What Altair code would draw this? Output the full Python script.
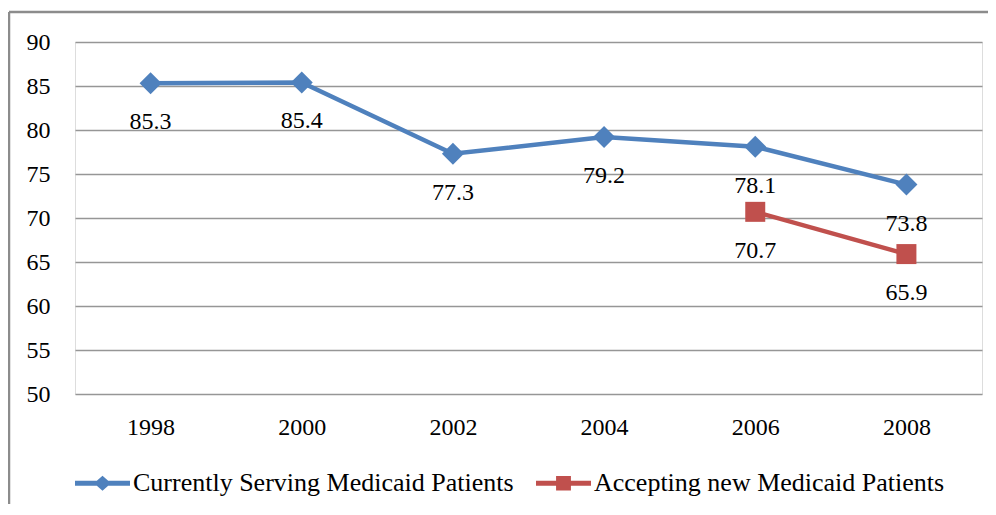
import altair as alt
import pandas as pd

# ---- data ----
years = ["1998", "2000", "2002", "2004", "2006", "2008"]
serving = [85.3, 85.4, 77.3, 79.2, 78.1, 73.8]
accepting = [None, None, None, None, 70.7, 65.9]
series_names = ["Currently Serving Medicaid Patients", "Accepting new Medicaid Patients"]
series_colors = ["#4f81bd", "#c0504d"]
series_shapes = ["diamond", "square"]
series_sizes = [484, 400]
y_ticks = [50, 55, 60, 65, 70, 75, 80, 85, 90]

rows = []
for name, vals in zip(series_names, [serving, accepting]):
    for yr, v in zip(years, vals):
        if v is not None:
            rows.append({"year": yr, "value": v, "series": name})
df = pd.DataFrame(rows)

FONT = "Liberation Serif"
W, H = 907, 352
BORDER = "#8c8c8c"

# legend symbols: line with marker in the middle
legend_paths = [
    "M-1,-0.09L1,-0.09L1,0.09L-1,0.09Z M0,-0.27L0.31,0L0,0.27L-0.31,0Z",
    "M-1,-0.09L1,-0.09L1,0.09L-1,0.09Z M-0.27,-0.26L0.27,-0.26L0.27,0.26L-0.27,0.26Z",
]

x_enc = alt.X(
    "year:N",
    sort=years,
    scale=alt.Scale(type="point", padding=0.5),
    axis=alt.Axis(title=None, labelAngle=0, ticks=False, domain=False, grid=False,
                  labelFontSize=24, labelFont=FONT, labelColor="black", labelPadding=21),
)
y_enc = alt.Y(
    "value:Q",
    scale=alt.Scale(domain=[50, 90], nice=False, zero=False),
    axis=alt.Axis(title=None, values=y_ticks, ticks=False, domain=False, grid=True,
                  gridColor="#969696", gridWidth=1.5,
                  labelFontSize=24, labelFont=FONT, labelColor="black", labelPadding=25),
)

legend_def = alt.Legend(
    title=None, orient="none", legendX=0, legendY=413.5, direction="horizontal",
    symbolSize=3025, symbolStrokeWidth=0, symbolOpacity=1,
    labelFontSize=26, labelFont=FONT, labelColor="black", labelOffset=3,
    columnPadding=22, labelLimit=600,
)

base = alt.Chart(df)

layers = []
# frame (left and top edges of the chart border)
frame = alt.Data(values=[{"k": 1}])
layers.append(alt.Chart(frame).mark_rule(color=BORDER, strokeWidth=2.5).encode(
    x=alt.value(-66), y=alt.value(-30), y2=alt.value(H + 200)))
layers.append(alt.Chart(frame).mark_rule(color=BORDER, strokeWidth=2.5).encode(
    x=alt.value(-66), x2=alt.value(W + 200), y=alt.value(-30)))

for name, col, shp, sz in zip(series_names, series_colors, series_shapes, series_sizes):
    sub = base.transform_filter(alt.datum.series == name)
    layers.append(sub.mark_line(strokeWidth=4.5, color=col).encode(x=x_enc, y=y_enc))
    layers.append(sub.mark_point(shape=shp, filled=True, size=sz, opacity=1, color=col)
                  .encode(x=x_enc, y=y_enc))

# invisible layer that only provides the legend
layers.append(base.mark_point(filled=True, opacity=0).encode(
    x=x_enc, y=y_enc,
    color=alt.Color("series:N", scale=alt.Scale(domain=series_names, range=series_colors),
                    legend=legend_def),
    shape=alt.Shape("series:N", scale=alt.Scale(domain=series_names, range=legend_paths),
                    legend=legend_def),
))

layers.append(base.mark_text(dy=39, fontSize=24, font=FONT, baseline="middle", color="black").encode(
    x=x_enc, y=y_enc, text=alt.Text("value:Q", format=".1f")))

chart = alt.layer(*layers).properties(
    width=W, height=H,
    autosize=alt.AutoSizeParams(type="none"),
    padding={"left": 67, "top": 34, "right": 6, "bottom": 110},
).configure_view(stroke=None).configure(background="white")

chart.save("out.html", embed_options={"renderer": "svg", "actions": False})
